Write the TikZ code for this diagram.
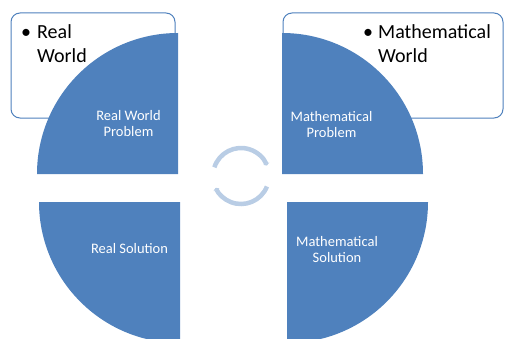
\documentclass[tikz,border=0pt]{standalone}
\usepackage{fontspec}
\setmainfont{Carlito}
\usetikzlibrary{arrows.meta}

\definecolor{quadblue}{HTML}{4F81BD}
\definecolor{cycleblue}{HTML}{B9CDE5}

\tikzset{
    worldbox/.style={draw=quadblue, line width=1pt, fill=white, rounded corners=9pt},
    quadrant/.style={fill=quadblue, draw=none},
    quadlabel/.style={text=white, align=center, inner sep=0pt,
        font=\fontsize{14.5}{16}\selectfont},
    worldtext/.style={align=left, inner sep=0pt, anchor=base west,
        font=\fontsize{20}{24}\selectfont},
    cyclearc/.style={draw=cycleblue, line width=4.5pt}
}

\begin{document}
\begin{tikzpicture}[x=1pt, y=1pt]
        % Marco
        \clip (0,0) rectangle (505,338);

        % Cajas de fondo
        \draw[worldbox] (11,220) rectangle (175,325);
        \draw[worldbox] (283,220) rectangle (503,325);
        \node[worldtext] (realbullet) at (21,299) {\textbullet};
        \node[worldtext] (realworld) at (37,299) {Real};
        \node[worldtext] (realworld2) at (37,275) {World};
        \node[worldtext] (mathbullet) at (363,299) {\textbullet};
        \node[worldtext] (mathworld) at (378,299) {Mathematical};
        \node[worldtext] (mathworld2) at (378,275) {World};

        % Cuadrantes
        \fill[quadrant] (178,164) -- (37,164) arc (180:90:141) -- cycle;
        \fill[quadrant] (282,164) -- (282,305) arc (90:0:141) -- cycle;
        \fill[quadrant] (180,136) -- (39,136) arc (180:270:141) -- cycle;
        \fill[quadrant] (287,136) -- (287,-5) arc (270:360:141) -- cycle;

        % Etiquetas
        \node[quadlabel] (realprob) at (128.5,214) {Real World\\Problem};
        \node[quadlabel] (mathprob) at (331.5,213.5) {Mathematical\\Problem};
        \node[quadlabel] (realsol) at (129.5,89) {Real Solution};
        \node[quadlabel] (mathsol) at (337,88.5) {Mathematical\\Solution};

        % Ciclo
        \draw[cyclearc, -{Triangle[length=2pt, width=6.5pt]}]
            (241,162) ++(162:28) arc (162:22:28);
        \draw[cyclearc, -{Triangle[length=2pt, width=6.5pt]}]
            (241,162) ++(338:28) arc (338:205:28);

\end{tikzpicture}
\end{document}
